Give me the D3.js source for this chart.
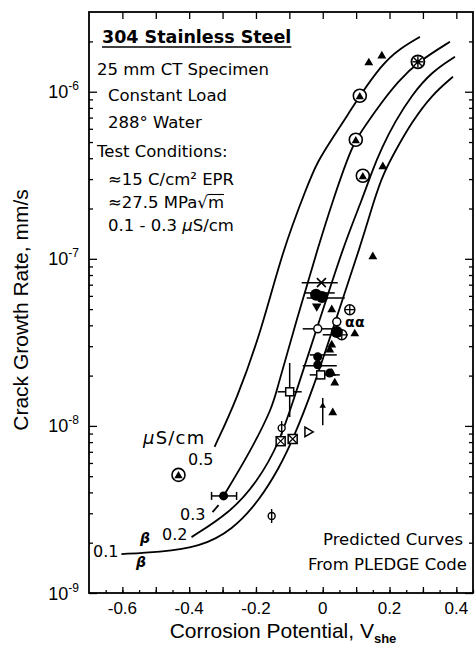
<!DOCTYPE html>
<html>
<head>
<meta charset="utf-8">
<script src="https://cdn.jsdelivr.net/npm/d3@7"></script>
<style>
  html, body { margin: 0; padding: 0; background: #fff; }
  svg { display: block; }
</style>
</head>
<body>
<svg id="chart" width="475" height="647"></svg>
<script>
// ---- Predicted curves (potential V_she, crack growth rate mm/s) ----
const curve05 = [[-0.324,7.5e-9],[-0.258,1.43e-8],[-0.183,3.76e-8],[-0.120,1.13e-7],[-0.045,2.77e-7],
  [-0.018,3.76e-7],[0.036,5.53e-7],[0.075,7.28e-7],[0.111,9.46e-7],[0.177,1.45e-6],[0.225,1.78e-6],[0.291,2.13e-6]];
const curve03Lead = [[-0.330,3.05e-9],[-0.312,3.36e-9]];
const curve03 = [[-0.297,3.81e-9],[-0.219,6.89e-9],[-0.150,1.30e-8],[-0.138,1.64e-8],[-0.078,4.31e-8],
  [-0.012,1.21e-7],[0.033,2.32e-7],[0.075,4.03e-7],[0.099,5.16e-7],[0.129,6.34e-7],[0.171,8.35e-7],
  [0.225,1.15e-6],[0.285,1.51e-6],[0.381,1.99e-6]];
const curve02 = [[-0.393,2.16e-9],[-0.279,3.01e-9],[-0.198,4.56e-9],[-0.129,7.91e-9],[-0.078,1.64e-8],
  [-0.009,4.31e-8],[0.063,1.21e-7],[0.120,2.32e-7],[0.147,3.32e-7],[0.177,4.62e-7],[0.216,6.60e-7],
  [0.267,9.59e-7],[0.327,1.32e-6],[0.396,1.62e-6]];
const curve01 = [[-0.603,1.71e-9],[-0.489,1.76e-9],[-0.369,1.88e-9],[-0.270,2.38e-9],[-0.189,3.60e-9],
  [-0.129,5.68e-9],[-0.090,8.24e-9],[-0.030,1.64e-8],[0.039,4.31e-8],[0.114,1.21e-7],[0.156,2.32e-7],
  [0.180,3.18e-7],[0.216,4.38e-7],[0.267,6.60e-7],[0.327,9.59e-7],[0.390,1.23e-6]];

// ---- Measured data ----
const filledTriangles = [[0.138,1.49e-6],[0.177,1.64e-6],[0.180,3.56e-7],[0.150,1.03e-7],[0.096,3.56e-8],
  [0.027,4.96e-8],[0.027,2.07e-8],[0.036,1.81e-8],[0.030,1.20e-8],[0.027,3.05e-8],[0.021,2.85e-8]];
const circledTriangles = [[0.111,9.46e-7],[0.099,5.16e-7],[0.120,3.14e-7],[-0.432,5.09e-9]];
const circledStars = [[0.285,1.51e-6]];
const circledPluses = [[0.081,4.96e-8],[0.057,3.51e-8]];
const filledCircles = [[-0.015,2.59e-8],[-0.015,2.32e-8],[0.021,2.07e-8],[-0.297,3.81e-9]];
const largeFilledCircles = [[-0.020,6.1e-8],[-0.002,5.9e-8],[0.042,3.65e-8]];
const openCircles = [[-0.015,3.81e-8],[0.042,4.2e-8]];
const openSquares = [[-0.006,2.02e-8],[-0.099,1.60e-8]];
const boxedCrosses = [[-0.126,8.1e-9],[-0.090,8.35e-9]];
const phiMarks = [[-0.123,9.7e-9],[-0.153,2.89e-9]];
const crossMarks = [[-0.004,7.2e-8]];
const downTriangles = [[-0.018,5.2e-8]];
const openRightTriangles = [[-0.045,9.2e-9]];
const alphaMarks = [[0.081,4.2e-8],[0.111,4.2e-8]];
// horizontal error bars: [rate, low potential, high potential]
const potentialErrors = [[7.2e-8,-0.063,0.045],[6.25e-8,-0.054,0.036],[5.83e-8,-0.048,0.066],
  [3.81e-8,-0.060,0.030],[3.51e-8,0.0,0.075],[2.66e-8,-0.039,0.042],[2.29e-8,-0.060,0.042],
  [2.02e-8,-0.039,0.051],[1.60e-8,-0.135,-0.063]];
const cappedPotentialErrors = [[3.81e-9,-0.333,-0.258]];
// vertical error bars: [potential, low rate, high rate]
const rateErrors = [[-0.099,1.13e-8,2.38e-8]];
const rateArrows = [[0.0,1.01e-8,1.47e-8]];

// ---- Axis ticks ----
const potentialTicks = [-0.6,-0.4,-0.2,0,0.2,0.4];
const potentialTickLabels = ["-0.6","-0.4","-0.2","0","0.2","0.4"];
const rateTicks = [1e-9,1e-8,1e-7,1e-6];
const rateExponents = ["-9","-8","-7","-6"];

const svg = d3.select("#chart");
const L = 89, R = 473, T = 12, B = 593;
const x = d3.scaleLinear().domain([-0.7, 0.45]).range([L, R]);
const y = d3.scaleLog().domain([1e-9, 3e-6]).range([B, T]);

svg.append("rect").attr("width", 475).attr("height", 647).attr("fill", "#fff");

// minor ticks
const minorRate = [];
for (let k = -9; k <= -6; k++) for (let m = 2; m <= 9; m++) {
  const v = m * Math.pow(10, k);
  if (v < 3e-6) minorRate.push(v);
}
const minorPot = d3.range(-0.65, 0.451, 0.05).map(v => +v.toFixed(2));
const decPot = d3.range(-0.6, 0.451, 0.1).map(v => +v.toFixed(2));

function styleAxis(g) {
  g.select(".domain").remove();
  g.selectAll(".tick line").attr("stroke", "#000").attr("stroke-width", 1.3);
  g.selectAll(".tick text").remove();
}
svg.append("g").attr("transform", `translate(0,${B})`)
  .call(d3.axisBottom(x).tickValues(minorPot).tickSize(-3)).call(styleAxis);
svg.append("g").attr("transform", `translate(0,${B})`)
  .call(d3.axisBottom(x).tickValues(decPot).tickSize(-6)).call(styleAxis);
svg.append("g").attr("transform", `translate(0,${T})`)
  .call(d3.axisTop(x).tickValues(decPot).tickSize(-7)).call(styleAxis);
svg.append("g").attr("transform", `translate(${L},0)`)
  .call(d3.axisLeft(y).tickValues(minorRate).tickSize(-4)).call(styleAxis);
svg.append("g").attr("transform", `translate(${L},0)`)
  .call(d3.axisLeft(y).tickValues(rateTicks).tickSize(-8)).call(styleAxis);
svg.append("g").attr("transform", `translate(${R},0)`)
  .call(d3.axisRight(y).tickValues(minorRate).tickSize(-4)).call(styleAxis);
svg.append("g").attr("transform", `translate(${R},0)`)
  .call(d3.axisRight(y).tickValues(rateTicks).tickSize(-8)).call(styleAxis);

// frame
svg.append("rect").attr("x", L).attr("y", T).attr("width", R - L).attr("height", B - T)
  .attr("fill", "none").attr("stroke", "#000").attr("stroke-width", 1.8);

// tick labels
const axisFont = "'Liberation Sans', Arial, sans-serif";
svg.append("g").selectAll("text").data(potentialTicks).join("text")
  .attr("x", d => x(d)).attr("y", 614).attr("text-anchor", "middle")
  .attr("font-family", axisFont).attr("font-size", 17)
  .text((d, i) => potentialTickLabels[i]);
const yl = svg.append("g").selectAll("text").data(rateTicks).join("text")
  .attr("x", 79).attr("y", d => y(d) + 6.5).attr("text-anchor", "end")
  .attr("font-family", axisFont).attr("font-size", 18);
yl.append("tspan").text("10");
yl.append("tspan").attr("font-size", 12).attr("dy", -8).text((d, i) => rateExponents[i]);

// axis titles
const xt = svg.append("text").attr("x", 283).attr("y", 638).attr("text-anchor", "middle")
  .attr("font-family", axisFont).attr("font-size", 21);
xt.append("tspan").text("Corrosion Potential, V");
xt.append("tspan").attr("font-size", 13).attr("font-weight", "bold").attr("dy", 5).text("she");
svg.append("text").attr("transform", "translate(28,310) rotate(-90)").attr("text-anchor", "middle")
  .attr("font-family", axisFont).attr("font-size", 21).text("Crack Growth Rate, mm/s");

// curves
const line = d3.line().x(d => x(d[0])).y(d => y(d[1])).curve(d3.curveBasis);
const curves = svg.append("g").attr("fill", "none").attr("stroke", "#000").attr("stroke-width", 1.8);
[curve05, curve03, curve02, curve01].forEach(c => curves.append("path").attr("d", line(c)));
curves.append("path").attr("d", d3.line().x(d => x(d[0])).y(d => y(d[1]))(curve03Lead));

// curve labels
const bodyFont = "'DejaVu Sans', sans-serif";
const lbl = svg.append("g").attr("font-family", bodyFont).attr("font-size", 16);
lbl.append("text").attr("x", 143).attr("y", 444).attr("font-size", 18).attr("letter-spacing", 1.2)
  .html('<tspan font-style="italic">μ</tspan>S/cm');
lbl.append("text").attr("x", 188).attr("y", 465).text("0.5");
lbl.append("text").attr("x", 180).attr("y", 520).text("0.3");
lbl.append("text").attr("x", 162).attr("y", 540).text("0.2");
lbl.append("text").attr("x", 93).attr("y", 557).text("0.1");
lbl.append("text").attr("x", 140).attr("y", 543).attr("font-style", "italic").attr("font-weight", "bold").attr("font-size", 14).text("β");
lbl.append("text").attr("x", 136).attr("y", 567).attr("font-style", "italic").attr("font-weight", "bold").attr("font-size", 14).text("β");

// error bars
const eb = svg.append("g").attr("stroke", "#000").attr("stroke-width", 1.5).attr("fill", "none");
potentialErrors.forEach(d => eb.append("line")
  .attr("x1", x(d[1])).attr("x2", x(d[2])).attr("y1", y(d[0])).attr("y2", y(d[0])));
cappedPotentialErrors.forEach(d => {
  eb.append("line").attr("x1", x(d[1])).attr("x2", x(d[2])).attr("y1", y(d[0])).attr("y2", y(d[0]));
  [d[1], d[2]].forEach(v => eb.append("line").attr("x1", x(v)).attr("x2", x(v))
    .attr("y1", y(d[0]) - 4).attr("y2", y(d[0]) + 4));
});
rateErrors.forEach(d => eb.append("line")
  .attr("x1", x(d[0])).attr("x2", x(d[0])).attr("y1", y(d[1])).attr("y2", y(d[2])));
rateArrows.forEach(d => {
  eb.append("line").attr("x1", x(d[0])).attr("x2", x(d[0])).attr("y1", y(d[1])).attr("y2", y(d[2]));
  svg.append("path").attr("transform", `translate(${x(d[0])},${y(d[2]) + 8})`)
    .attr("d", d3.symbol(d3.symbolTriangle, 18)()).attr("fill", "#000");
});

// markers
const mk = svg.append("g");
const at = d => `translate(${x(d[0])},${y(d[1])})`;
filledTriangles.forEach(d => mk.append("path").attr("transform", at(d))
  .attr("d", d3.symbol(d3.symbolTriangle, 34)()).attr("fill", "#000"));
downTriangles.forEach(d => mk.append("path").attr("transform", at(d) + " rotate(180)")
  .attr("d", d3.symbol(d3.symbolTriangle, 40)()).attr("fill", "#000"));
openRightTriangles.forEach(d => mk.append("path").attr("transform", at(d) + " rotate(90)")
  .attr("d", d3.symbol(d3.symbolTriangle, 40)()).attr("fill", "#fff").attr("stroke", "#000").attr("stroke-width", 1.5));
circledTriangles.forEach(d => {
  const g = mk.append("g").attr("transform", at(d));
  g.append("circle").attr("r", 6.5).attr("fill", "#fff").attr("stroke", "#000").attr("stroke-width", 1.6);
  g.append("path").attr("transform", "translate(0,1)").attr("d", d3.symbol(d3.symbolTriangle, 30)()).attr("fill", "#000");
});
circledStars.forEach(d => {
  const g = mk.append("g").attr("transform", at(d));
  g.append("circle").attr("r", 6.5).attr("fill", "#fff").attr("stroke", "#000").attr("stroke-width", 1.8);
  [0, 45, 90, 135].forEach(a => g.append("line").attr("x1", -5.5).attr("x2", 5.5)
    .attr("transform", `rotate(${a})`).attr("stroke", "#000").attr("stroke-width", 1.4));
  g.append("circle").attr("r", 2).attr("fill", "#000");
});
circledPluses.forEach(d => {
  const g = mk.append("g").attr("transform", at(d));
  g.append("circle").attr("r", 5).attr("fill", "#fff").attr("stroke", "#000").attr("stroke-width", 1.5);
  g.append("path").attr("d", "M-5,0H5M0,-5V5").attr("stroke", "#000").attr("stroke-width", 1.3);
});
largeFilledCircles.forEach(d => mk.append("circle").attr("transform", at(d)).attr("r", 6).attr("fill", "#000"));
filledCircles.forEach(d => mk.append("circle").attr("transform", at(d)).attr("r", 4.5).attr("fill", "#000"));
openCircles.forEach(d => mk.append("circle").attr("transform", at(d)).attr("r", 4)
  .attr("fill", "#fff").attr("stroke", "#000").attr("stroke-width", 1.5));
openSquares.forEach(d => mk.append("rect").attr("transform", at(d)).attr("x", -4).attr("y", -4)
  .attr("width", 8).attr("height", 8).attr("fill", "#fff").attr("stroke", "#000").attr("stroke-width", 1.5));
boxedCrosses.forEach(d => {
  const g = mk.append("g").attr("transform", at(d));
  g.append("rect").attr("x", -4.5).attr("y", -4.5).attr("width", 9).attr("height", 9)
    .attr("fill", "#fff").attr("stroke", "#000").attr("stroke-width", 1.5);
  g.append("path").attr("d", "M-4.5,-4.5L4.5,4.5M-4.5,4.5L4.5,-4.5").attr("stroke", "#000").attr("stroke-width", 1.2);
});
phiMarks.forEach(d => {
  const g = mk.append("g").attr("transform", at(d));
  g.append("circle").attr("r", 3.5).attr("fill", "#fff").attr("stroke", "#000").attr("stroke-width", 1.4);
  g.append("line").attr("y1", -7).attr("y2", 7).attr("stroke", "#000").attr("stroke-width", 1.4);
});
crossMarks.forEach(d => mk.append("path").attr("transform", at(d))
  .attr("d", "M-4.5,-4.5L4.5,4.5M-4.5,4.5L4.5,-4.5").attr("stroke", "#000").attr("stroke-width", 1.6));
alphaMarks.forEach(d => mk.append("text").attr("transform", at(d)).attr("text-anchor", "middle")
  .attr("dy", "0.35em").attr("font-family", bodyFont).attr("font-weight", "bold").attr("font-size", 14).text("α"));

// specimen and test conditions block
const title = svg.append("text").attr("x", 102).attr("y", 43).attr("font-family", bodyFont)
  .attr("font-weight", "bold").attr("font-size", 17.5).text("304 Stainless Steel");
const tw = title.node().getComputedTextLength();
svg.append("line").attr("x1", 102).attr("x2", 102 + tw).attr("y1", 47).attr("y2", 47)
  .attr("stroke", "#000").attr("stroke-width", 1.6);

const info = svg.append("g").attr("font-family", bodyFont).attr("font-size", 16.5);
info.append("text").attr("x", 97).attr("y", 75).text("25 mm CT Specimen");
info.append("text").attr("x", 108).attr("y", 101).text("Constant Load");
info.append("text").attr("x", 108).attr("y", 128).text("288° Water");
info.append("text").attr("x", 97).attr("y", 157).text("Test Conditions:");
info.append("text").attr("x", 108).attr("y", 185).text("≈15 C/cm² EPR");
const kLabel = "≈27.5 MPa√m";
const kText = info.append("text").attr("x", 108).attr("y", 208).text(kLabel);
{
  // overline of the square root spans the radicand
  const n = kText.node();
  const i = kLabel.length - 1;
  const s = n.getSubStringLength(0, i);
  const w = n.getSubStringLength(i, 1);
  svg.append("line").attr("x1", 108 + s - 0.5).attr("x2", 108 + s + w).attr("y1", 208 - 13.5).attr("y2", 208 - 13.5)
    .attr("stroke", "#000").attr("stroke-width", 1.1);
}
info.append("text").attr("x", 108).attr("y", 231)
  .html('0.1 - 0.3 <tspan font-style="italic">μ</tspan>S/cm');

const foot = svg.append("g").attr("font-family", bodyFont).attr("font-size", 16.5).attr("text-anchor", "end");
foot.append("text").attr("x", 463).attr("y", 545).text("Predicted Curves");
foot.append("text").attr("x", 467).attr("y", 570).text("From PLEDGE Code");
</script>
</body>
</html>
